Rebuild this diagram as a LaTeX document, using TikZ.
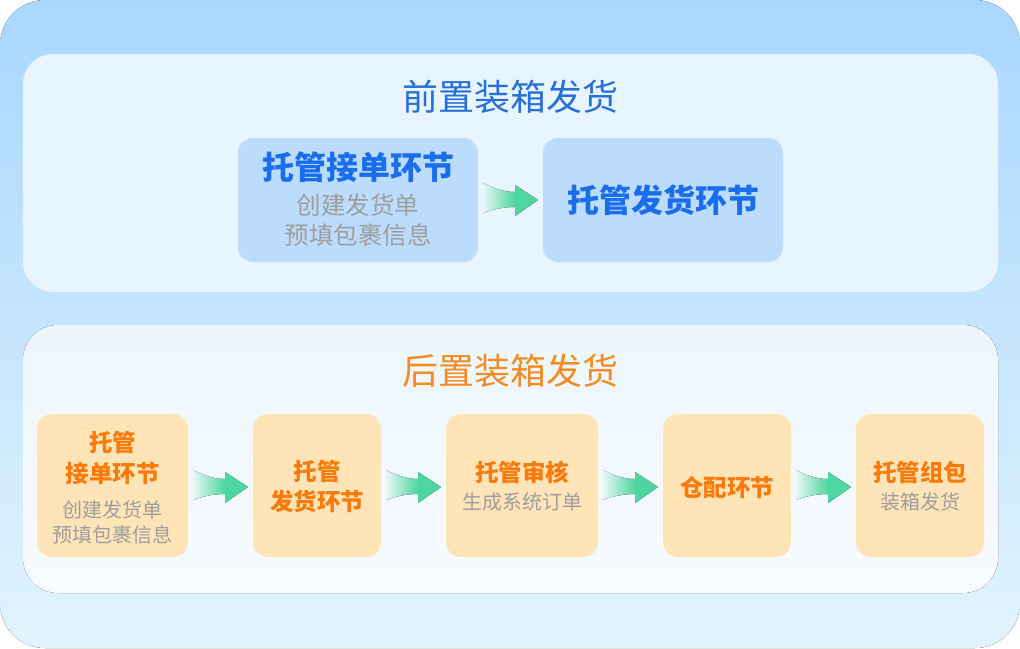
\documentclass[tikz,border=0pt]{standalone}
\usepackage{fontspec}
\setmainfont{Noto Sans CJK SC}
\usetikzlibrary{positioning,calc}
\definecolor{outertop}{HTML}{A9D7FE}
\definecolor{outerbot}{HTML}{E1F4FE}
\definecolor{panelup}{HTML}{E8F4FE}
\definecolor{paneltop}{HTML}{ECF6FE}
\definecolor{panelbot}{HTML}{F7FBFF}
\definecolor{boxblue}{HTML}{BCDCFD}
\definecolor{boxorange}{HTML}{FFE4B8}
\definecolor{titleblue}{HTML}{2670D8}
\definecolor{textblue}{HTML}{1A6EEB}
\definecolor{titleorange}{HTML}{F58B22}
\definecolor{textorange}{HTML}{FA7A0A}
\definecolor{textgray}{HTML}{9E9E9E}
\definecolor{swgreen}{HTML}{4ED6A0}
\definecolor{fadegreen}{HTML}{E8F7F6}
\pgfdeclarehorizontalshading{swooshfill}{100bp}{color(0bp)=(fadegreen); color(25bp)=(fadegreen); color(54bp)=(swgreen); color(100bp)=(swgreen)}

\begin{document}
\begin{tikzpicture}[x=1pt, y=-1pt,
	bluebox/.style={rounded corners=15pt, fill=boxblue, minimum width=240pt, minimum height=124pt, inner sep=0pt, outer sep=0pt},
	orangebox/.style={rounded corners=15pt, fill=boxorange, minimum width=128pt, minimum height=143pt, inner sep=0pt, outer sep=0pt},
	title/.style={font=\fontsize{36pt}{40pt}\selectfont},
	bighd/.style={font=\fontsize{32pt}{35pt}\selectfont\bfseries, text=textblue},
	bigsub/.style={font=\fontsize{24.5pt}{30pt}\selectfont, text=textgray, align=center},
	hd/.style={font=\fontsize{23.5pt}{30.5pt}\selectfont\bfseries, text=textorange, align=center},
	sub/.style={font=\fontsize{20pt}{25pt}\selectfont, text=textgray, align=center},
	swoosh/.pic={\fill[shading=swooshfill] (-27.5,-17) .. controls (-12,-9) and (-2,-8) .. (4.5,-8) -- (4.5,-15) -- (27.5,0) -- (4.5,16) -- (4.5,7) .. controls (-3,7) and (-15,8) .. (-27.5,13) -- cycle;},
	node distance=65pt]
	\useasboundingbox (0,0) rectangle (1020,648);
	% background and panels
	\fill[rounded corners=45pt, top color=outertop, bottom color=outerbot] (0,0) rectangle (1020,648);
	\fill[rounded corners=30pt, panelup] (23,54) rectangle (998,292);
	\fill[rounded corners=35pt, top color=paneltop, bottom color=panelbot] (23,325) rectangle (998,593);
	\node[title, text=titleblue] (t1) at (510,97) {前置装箱发货};
	\node[title, text=titleorange] (t2) at (510,371) {后置装箱发货};
	% upper row
	\node[bluebox] (a1) at (358,200) {};
	\node[bluebox] (a2) [right=of a1] {};
	\node[bighd] (a1t) at ([yshift=33pt]a1.center) {托管接单环节};
	\node[bigsub] (a1s) at ([yshift=-20pt]a1.center) {创建发货单\\预填包裹信息};
	\node[bighd] (a2t) at (a2.center) {托管发货环节};
	\pic at ($(a1.east)!0.5!(a2.west)$) {swoosh};
	% lower row
	\node[orangebox, minimum width=151pt] (b1) at (112.5,485.5) {};
	\node[orangebox] (b2) [right=of b1] {};
	\node[orangebox, minimum width=152pt] (b3) [right=of b2] {};
	\node[orangebox] (b4) [right=of b3] {};
	\node[orangebox] (b5) [right=of b4] {};
	\node[hd] (b1t) at ([yshift=27.5pt]b1.center) {托管\\接单环节};
	\node[sub] (b1s) at ([yshift=-37pt]b1.center) {创建发货单\\预填包裹信息};
	\node[hd] (b2t) at ([yshift=-1pt]b2.center) {托管\\发货环节};
	\node[hd] (b3t) at ([yshift=13.5pt]b3.center) {托管审核};
	\node[sub] (b3s) at ([yshift=-16.5pt]b3.center) {生成系统订单};
	\node[hd] (b4t) at ([yshift=-1.5pt]b4.center) {仓配环节};
	\node[hd] (b5t) at ([yshift=13.5pt]b5.center) {托管组包};
	\node[sub] (b5s) at ([yshift=-16.5pt]b5.center) {装箱发货};
	\foreach \u/\v in {b1/b2, b2/b3, b3/b4, b4/b5}
		\pic at ($(\u.east)!0.5!(\v.west)+(0,1.5)$) {swoosh};
\end{tikzpicture}
\end{document}
